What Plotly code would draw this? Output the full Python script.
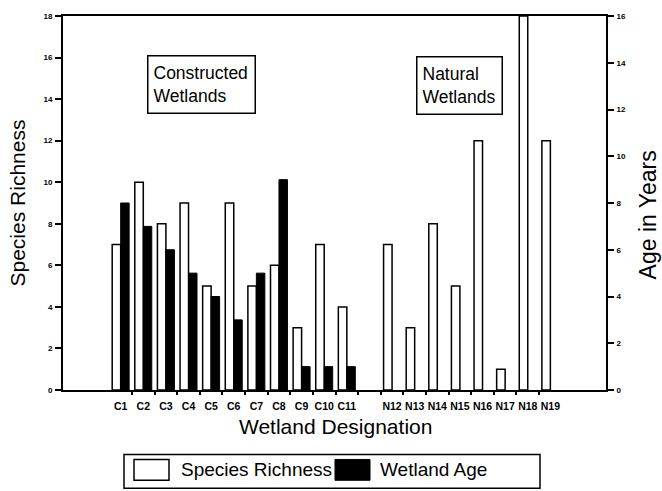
import plotly.graph_objects as go

# ---- data ----
categories = ["C1", "C2", "C3", "C4", "C5", "C6", "C7", "C8", "C9", "C10", "C11",
              " ",
              "N12", "N13", "N14", "N15", "N16", "N17", "N18", "N19"]
species_richness = [7, 10, 8, 9, 5, 9, 5, 6, 3, 7, 4,
                    None,
                    7, 3, 8, 5, 12, 1, 18, 12]
wetland_age = [8, 7, 6, 5, 4, 3, 5, 9, 1, 1, 1,
               None,
               None, None, None, None, None, None, None, None]
series_names = ["Species Richness", "Wetland Age"]
left_ticks = list(range(0, 19, 2))
right_ticks = list(range(0, 17, 2))

# ---- layout geometry (pixels) ----
W, H = 662, 491
L, R, T, B = 63, 56, 13, 101
PW, PH = W - L - R, H - T - B


def px(x):
    return (x - L) / PW


def py(y):
    return (H - B - y) / PH


FONT = "Liberation Sans, Arial, sans-serif"
x_range = [-2.55, 21.46]

fig = go.Figure()
fig.add_trace(go.Bar(
    x=categories, y=species_richness, name=series_names[0],
    marker=dict(color="white", line=dict(color="black", width=1.5)),
    offsetgroup="1", yaxis="y", showlegend=False,
))
fig.add_trace(go.Bar(
    x=categories, y=wetland_age, name=series_names[1],
    marker=dict(color="black", line=dict(color="black", width=1)),
    offsetgroup="2", yaxis="y2", showlegend=False,
))
# helper trace so the tick-only overlay axis exists
fig.add_trace(go.Scatter(x=[None], y=[None], xaxis="x2", yaxis="y",
                         showlegend=False, hoverinfo="skip"))

boundaries = [i + 0.5 for i in range(len(categories) - 1)]

axis_common = dict(showgrid=False, zeroline=False, showline=True,
                   linecolor="black", linewidth=2)

fig.update_layout(
    width=W, height=H,
    margin=dict(l=L, r=R, t=T, b=B, pad=0),
    paper_bgcolor="white", plot_bgcolor="white",
    barmode="group", bargap=0.25, bargroupgap=0,
    font=dict(family=FONT, color="black"),
    xaxis=dict(type="category", categoryorder="array", categoryarray=categories,
               range=x_range, ticks="", mirror=True,
               tickfont=dict(size=10.5, family=FONT, weight="bold"),
               ticklabelstandoff=5, **axis_common),
    xaxis2=dict(type="linear", overlaying="x", anchor="y", side="bottom",
                range=x_range, tickvals=boundaries, showticklabels=False,
                ticks="outside", ticklen=4, tickwidth=1.5, tickcolor="black",
                showgrid=False, zeroline=False, showline=False),
    yaxis=dict(range=[0, 18], tickvals=left_ticks, ticks="outside", ticklen=6,
               tickwidth=1.5, tickcolor="black",
               tickfont=dict(size=8, family=FONT, weight="bold"),
               ticklabelstandoff=1, **axis_common),
    yaxis2=dict(range=[0, 16], tickvals=right_ticks, overlaying="y", side="right",
                anchor="x", ticks="outside", ticklen=6, tickwidth=1.5,
                tickcolor="black",
                tickfont=dict(size=8, family=FONT, weight="bold"),
                ticklabelstandoff=1, **axis_common),
)

annotations = [
    # axis titles
    dict(text="Species Richness", x=px(17), y=py(202), textangle=-90,
         font=dict(size=21)),
    dict(text="Age in Years", x=px(648), y=py(214), textangle=-90,
         font=dict(size=23)),
    dict(text="Wetland Designation", x=px(335), y=py(427),
         font=dict(size=21)),
    # group labels
    dict(text="Constructed<br>Wetlands", x=px(201), y=py(82), align="left",
         width=96, height=46, borderpad=5, borderwidth=1.5, bordercolor="black",
         bgcolor="white", font=dict(size=17.5)),
    dict(text="Natural<br>Wetlands", x=px(459.5), y=py(83.5), align="left",
         width=74, height=46, borderpad=5, borderwidth=1.5, bordercolor="black",
         bgcolor="white", font=dict(size=17.5)),
    # legend texts
    dict(text=series_names[0], x=px(179), y=py(470.5), xanchor="left",
         font=dict(size=19)),
    dict(text=series_names[1], x=px(378), y=py(470.5), xanchor="left",
         font=dict(size=19)),
]
for a in annotations:
    a.setdefault("xanchor", "center")
    a.setdefault("yanchor", "middle")
    a.update(xref="paper", yref="paper", showarrow=False)
    a["font"] = dict(family=FONT, color="black", **a["font"])
fig.update_layout(annotations=annotations)

shapes = [
    dict(type="rect", x0=px(124), x1=px(540), y0=py(489), y1=py(455),
         line=dict(color="black", width=1.5), fillcolor="white", layer="below"),
    dict(type="rect", x0=px(134), x1=px(169), y0=py(481), y1=py(460),
         line=dict(color="black", width=1.5), fillcolor="white"),
    dict(type="rect", x0=px(335), x1=px(370), y0=py(481), y1=py(460),
         line=dict(color="black", width=1), fillcolor="black"),
]
for s in shapes:
    s.update(xref="paper", yref="paper")
fig.update_layout(shapes=shapes)

fig.write_html("out.html",
               config={"displayModeBar": False},
               post_script="document.body.style.margin='0px';")
